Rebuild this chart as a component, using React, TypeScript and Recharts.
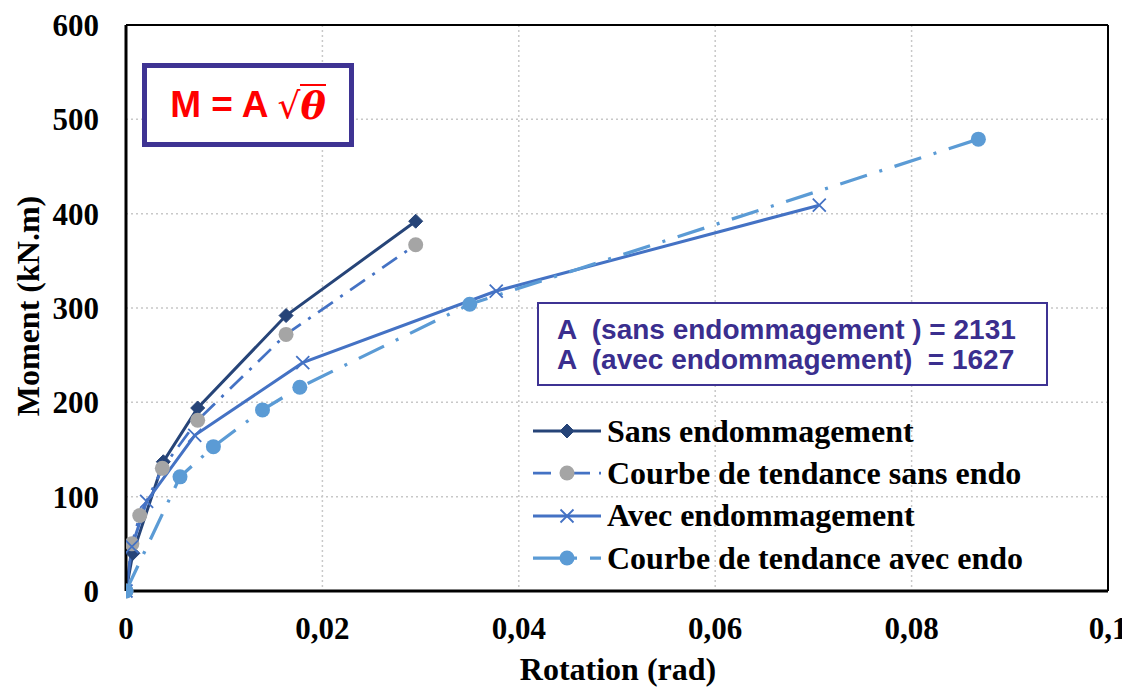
import { LineChart, Line, XAxis, YAxis, CartesianGrid, ReferenceLine } from 'recharts'

// rotation (rad) / moment (kN.m)
const sansEndo = [
  { x: 0, y: 0 },
  { x: 0.0007, y: 40 },
  { x: 0.0038, y: 137 },
  { x: 0.0073, y: 194 },
  { x: 0.0163, y: 292 },
  { x: 0.0295, y: 392 },
]

const sansTrend = [
  { x: 0, y: 0 },
  { x: 0.0006, y: 50 },
  { x: 0.0014, y: 80 },
  { x: 0.0037, y: 130 },
  { x: 0.0073, y: 181 },
  { x: 0.0163, y: 272 },
  { x: 0.0295, y: 367 },
]

const avecEndo = [
  { x: 0, y: 0 },
  { x: 0.0006, y: 47 },
  { x: 0.0021, y: 95 },
  { x: 0.007, y: 165 },
  { x: 0.018, y: 242 },
  { x: 0.0377, y: 318 },
  { x: 0.0706, y: 409 },
]

const avecTrend = [
  { x: 0, y: 0 },
  { x: 0.0055, y: 121 },
  { x: 0.0089, y: 153 },
  { x: 0.0139, y: 192 },
  { x: 0.0177, y: 216 },
  { x: 0.035, y: 304 },
  { x: 0.0868, y: 479 },
]

const xTicks = [0, 0.02, 0.04, 0.06, 0.08, 0.1]
const yTicks = [0, 100, 200, 300, 400, 500, 600]

const A_SANS = 2131
const A_AVEC = 1627

const SERIF = '"Liberation Serif", "Times New Roman", serif'
const SANS = '"Liberation Sans", Arial, sans-serif'

type Marker = 'diamond' | 'circle' | 'cross'

interface SeriesDef {
  name: string
  data: { x: number; y: number }[]
  stroke: string
  width: number
  dash?: string
  marker: Marker
  markerColor: string
}

const series: SeriesDef[] = [
  { name: 'Sans endommagement', data: sansEndo, stroke: '#264478', width: 3, marker: 'diamond', markerColor: '#264478' },
  { name: 'Courbe de tendance sans endo', data: sansTrend, stroke: '#4472C4', width: 2.75, dash: '18 9 3 9', marker: 'circle', markerColor: '#A5A5A5' },
  { name: 'Avec endommagement', data: avecEndo, stroke: '#4472C4', width: 3, marker: 'cross', markerColor: '#4472C4' },
  { name: 'Courbe de tendance avec endo', data: avecTrend, stroke: '#5B9BD5', width: 3.25, dash: '28 13 3 13', marker: 'circle', markerColor: '#5B9BD5' },
]

function drawMarker(kind: Marker, color: string, cx: number, cy: number, key?: string) {
  if (kind === 'diamond') {
    const r = 7
    return <path key={key} d={`M${cx},${cy - r}L${cx + r},${cy}L${cx},${cy + r}L${cx - r},${cy}Z`} fill={color} stroke={color} />
  }
  if (kind === 'circle') {
    return <circle key={key} cx={cx} cy={cy} r={7.5} fill={color} stroke="none" />
  }
  const r = 6.5
  return (
    <path key={key} d={`M${cx - r},${cy - r}L${cx + r},${cy + r}M${cx - r},${cy + r}L${cx + r},${cy - r}`}
      stroke={color} strokeWidth={1.8} fill="none" />
  )
}

const fmt = (v: number) => (v === 0 ? '0' : String(v).replace('.', ','))

const titleStyle = { fill: '#000', fontFamily: SERIF, fontWeight: 'bold', fontSize: 32 } as const
const tickStyle = { fill: '#000', fontFamily: SERIF, fontWeight: 'bold', fontSize: 31 }

function LegendBox() {
  return (
    <div style={{ position: 'absolute', left: 532, top: 410, fontFamily: SERIF, fontWeight: 'bold', fontSize: 32, color: '#000' }}>
      {series.map(s => (
        <div key={s.name} style={{ display: 'flex', alignItems: 'center', height: 42.3 }}>
          <svg width={70} height={20} style={{ marginRight: 5 }}>
            <line x1={1} y1={10} x2={69} y2={10} stroke={s.stroke} strokeWidth={s.width} strokeDasharray={s.dash} />
            {drawMarker(s.marker, s.markerColor, 35, 10)}
          </svg>
          <span style={{ whiteSpace: 'nowrap' }}>{s.name}</span>
        </div>
      ))}
    </div>
  )
}

export default function App() {
  return (
    <div style={{ position: 'relative', width: 1130, height: 688, marginTop: -8, marginLeft: -8, background: '#fff' }}>
      <LineChart width={1130} height={688} margin={{ top: 25, right: 22, bottom: 0, left: 0 }}>
        <CartesianGrid stroke="#C8C8C8" strokeWidth={1.5} strokeDasharray="2 3" />
        <XAxis
          type="number"
          dataKey="x"
          domain={[0, 0.1]}
          ticks={xTicks}
          tickFormatter={fmt}
          height={97}
          tickLine={false}
          tickSize={0}
          tickMargin={26}
          axisLine={{ stroke: '#000', strokeWidth: 3 }}
          tick={tickStyle}
          allowDataOverflow
          label={{
            content: () => (
              <text x={618} y={680} textAnchor="middle" style={titleStyle}>Rotation (rad)</text>
            ),
          }}
        />
        <YAxis
          type="number"
          dataKey="y"
          domain={[0, 600]}
          ticks={yTicks}
          width={126}
          tickLine={false}
          tickSize={0}
          tickMargin={27}
          axisLine={{ stroke: '#000', strokeWidth: 3 }}
          tick={tickStyle}
          label={{
            content: () => (
              <text x={39} y={306} transform="rotate(-90 39 306)" textAnchor="middle" style={titleStyle}>
                Moment (kN.m)
              </text>
            ),
          }}
        />
        <ReferenceLine y={600} stroke="#000" strokeWidth={2} />
        <ReferenceLine x={0.1} stroke="#000" strokeWidth={2} />
        {series.map(s => (
          <Line
            key={s.name}
            data={s.data}
            dataKey="y"
            name={s.name}
            type="linear"
            stroke={s.stroke}
            strokeWidth={s.width}
            strokeDasharray={s.dash}
            isAnimationActive={false}
            dot={(p: any) => drawMarker(s.marker, s.markerColor, p.cx, p.cy, `${s.name}-${p.index}`)}
            activeDot={false}
          />
        ))}
      </LineChart>

      <LegendBox />

      <div
        style={{
          position: 'absolute', left: 142, top: 63, width: 212, height: 84, boxSizing: 'border-box',
          border: '5px solid #3E3393', background: '#fff', display: 'flex', alignItems: 'center',
          justifyContent: 'center', color: '#FF0000', fontFamily: SANS, fontWeight: 'bold', fontSize: 37,
        }}
      >
        <span style={{ whiteSpace: 'pre' }}>M = A </span>
        <span style={{ fontFamily: '"DejaVu Serif", serif', fontWeight: 'normal', fontSize: 36 }}>√</span>
        <span style={{ fontFamily: '"DejaVu Serif", serif', fontStyle: 'italic', borderTop: '2px solid #FF0000', lineHeight: 1.05, fontSize: 38 }}>θ</span>
      </div>

      <div
        style={{
          position: 'absolute', left: 537, top: 302, width: 511, height: 84, boxSizing: 'border-box',
          border: '2px solid #3E3393', background: '#fff', color: '#3A2E8E', fontFamily: SANS,
          fontWeight: 'bold', fontSize: 28, lineHeight: '30px', padding: '11px 0 0 18px', whiteSpace: 'pre',
        }}
      >
        <div>{`A  (sans endommagement ) = ${A_SANS}`}</div>
        <div>{`A  (avec endommagement)  = ${A_AVEC}`}</div>
      </div>
    </div>
  )
}
